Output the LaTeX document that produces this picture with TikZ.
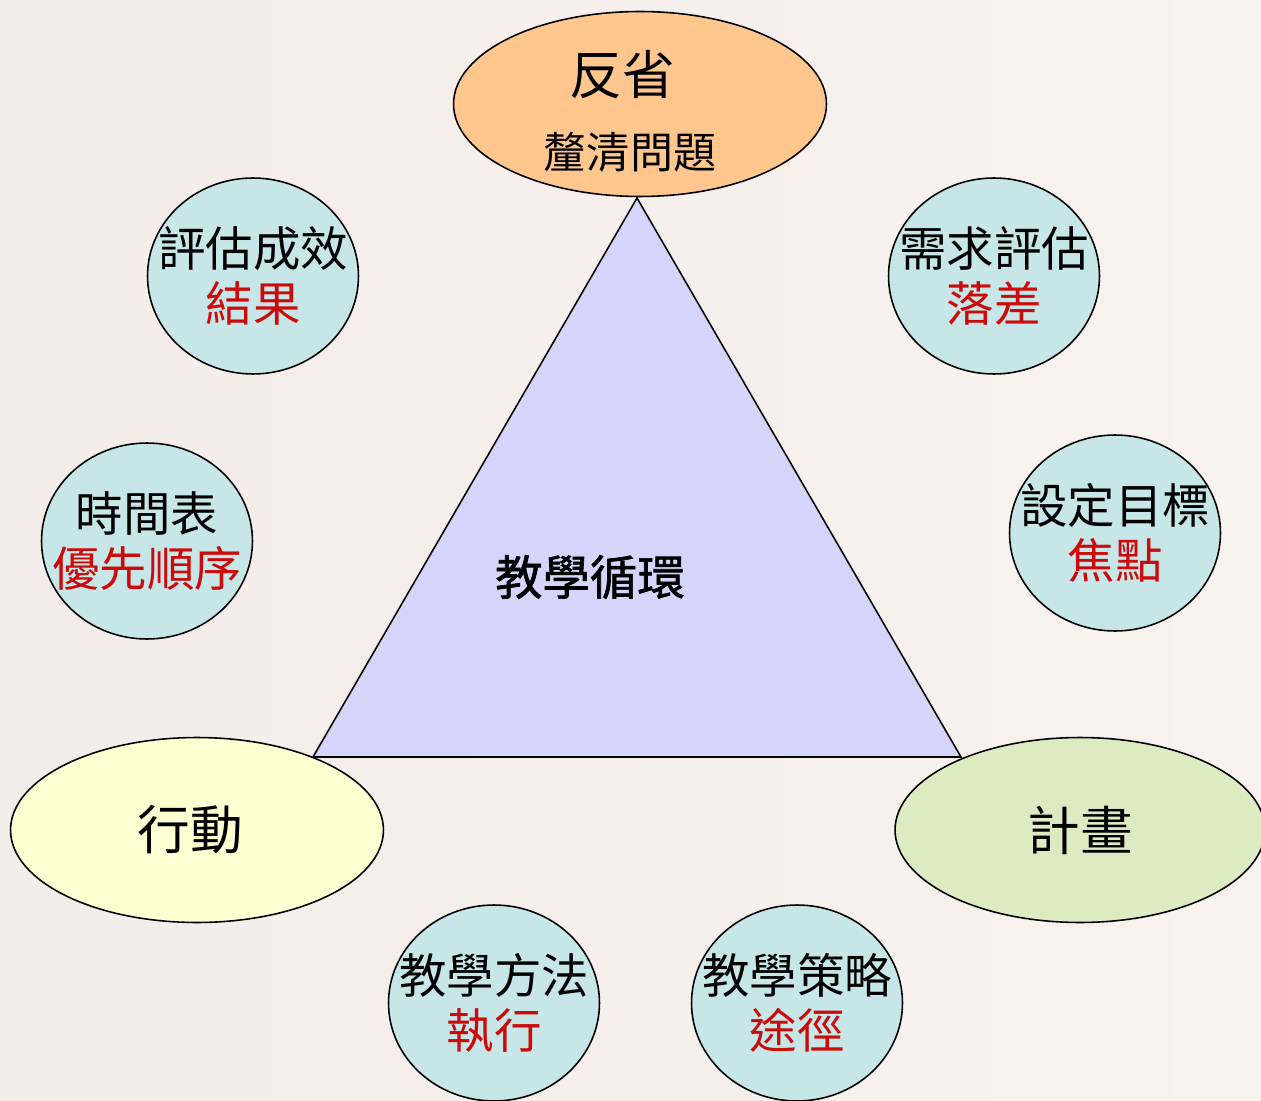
\documentclass[tikz,border=0pt]{standalone}
\usepackage{fontspec}
\newfontfamily\cjk{Noto Sans CJK TC}
\newfontfamily\cjkb[FakeBold=1.4]{Noto Sans CJK TC}
\usetikzlibrary{shapes.geometric,positioning}
\definecolor{paperl}{HTML}{F4ECE9}
\definecolor{paperm}{HTML}{FBFAF8}
\definecolor{paperr}{HTML}{F8F3EF}
\definecolor{trifill}{HTML}{D5D5FC}
\definecolor{reflfill}{HTML}{FFC78E}
\definecolor{actfill}{HTML}{FFFFD2}
\definecolor{planfill}{HTML}{DDEBC2}
\definecolor{bubfill}{HTML}{C6E6E8}
\definecolor{redtxt}{HTML}{CC0A0A}
\tikzset{
 phase/.style={draw, ellipse, inner sep=0pt, minimum width=7.46cm, minimum height=3.7cm,
   font=\cjk\fontsize{30}{34}\selectfont},
 bubble/.style={draw, ellipse, fill=bubfill, inner xsep=-0.45cm, inner ysep=0pt,
   minimum width=4.22cm, minimum height=3.92cm, align=center,
   font=\cjk\fontsize{27}{31.5}\selectfont},
}

\begin{document}
\begin{tikzpicture}[x=0.02cm,y=-0.02cm,line width=0.9pt]

\shade[left color=paperl, middle color=paperm, right color=paperr] (0,0) rectangle (1261,1101);
\useasboundingbox (0,0) rectangle (1261,1101);

\path (637,198) coordinate[name=apex];
\path (313,757) coordinate[name=lc];
\path (961,757) coordinate[name=rc];

\draw[fill=trifill] (apex) -- (lc) -- (rc) -- cycle;
\path (590,577) node[name=loop,font=\cjkb\fontsize{27}{31}\selectfont] {教學循環};

\path (640,104) node[phase,fill=reflfill,name=refl] {};
\path (refl.center)+(-18,-29) node[name=refltop,font=\cjk\fontsize{30}{34}\selectfont] {反省};
\path (refl.center)+(-10,48) node[name=reflsub,font=\cjk\fontsize{24.5}{28}\selectfont] {釐清問題};

\path (197,830) node[phase,fill=actfill,name=act] {};
\path (act.center)+(-7,0) node[name=acttxt,font=\cjk\fontsize{30}{34}\selectfont] {行動};
\path (1080,830) node[phase,fill=planfill,name=plan,minimum width=7.4cm] {計畫};

\path (253,276) node[bubble,name=eval] {評估成效\\ \textcolor{redtxt}{結果}};
\path (994,276) node[bubble,name=need] {需求評估\\ \textcolor{redtxt}{落差}};
\path (147,541) node[bubble,name=time] {時間表\\ \textcolor{redtxt}{優先順序}};
\path (1115,533) node[bubble,name=goal] {設定目標\\ \textcolor{redtxt}{焦點}};
\path (494,1003) node[bubble,name=meth] {教學方法\\ \textcolor{redtxt}{執行}};
\path (797,1003) node[bubble,name=strat] {教學策略\\ \textcolor{redtxt}{途徑}};

\end{tikzpicture}
\end{document}
